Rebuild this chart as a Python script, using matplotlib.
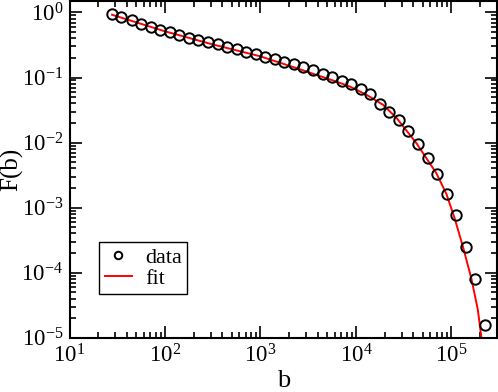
import matplotlib
matplotlib.use("Agg")
import matplotlib.pyplot as plt
from matplotlib.ticker import LogLocator, NullFormatter

plt.rcParams['font.family'] = ['Liberation Serif', 'DejaVu Serif']
plt.rcParams['mathtext.fontset'] = 'custom'
plt.rcParams['mathtext.rm'] = 'Liberation Serif'
plt.rcParams['mathtext.it'] = 'Liberation Serif:italic'
plt.rcParams['mathtext.bf'] = 'Liberation Serif:bold'

# data
b_data = [28, 35, 45, 56, 71, 89, 112, 141, 178, 224, 282, 355, 447, 562, 708,
          891, 1122, 1413, 1778, 2239, 2818, 3548, 4467, 5623, 7079, 8913,
          11220, 14125, 17783, 22387, 28184, 35481, 44668, 56234, 70795,
          89125, 112202, 141254, 177828, 223872]
F_data = [0.955, 0.838, 0.753, 0.670, 0.596, 0.542, 0.492, 0.454, 0.412, 0.380,
          0.351, 0.322, 0.297, 0.273, 0.246, 0.228, 0.208, 0.191, 0.174, 0.161,
          0.145, 0.129, 0.115, 0.101, 0.0899, 0.0783, 0.0670, 0.0550, 0.0394,
          0.0299, 0.0221, 0.0150, 0.00945, 0.00575, 0.00323, 0.00164, 0.000778,
          0.000251, 7.91e-5, 1.57e-5]

# fit curve
b_fit = [27.9, 98.4, 312, 991, 2563, 3828, 5777, 8630, 12900, 19240, 26560,
         42960, 69480, 88450, 107950, 131900, 161400, 189200, 213800]
F_fit = [0.922, 0.516, 0.324, 0.212, 0.1346, 0.110, 0.0899, 0.0727, 0.0542,
         0.0380, 0.0240, 0.00979, 0.00338, 0.00163, 0.000687, 0.000251,
         8.2e-5, 2.67e-5, 6.5e-6]

fig = plt.figure(figsize=(4.98, 3.92), dpi=100)
ax = fig.add_axes([69.5/498, 54.3/392, 427.5/498, 336.7/392])

ax.plot(b_fit, F_fit, color='red', lw=1.4, label='fit', zorder=2)
ax.plot(b_data, F_data, ls='none', marker='o', ms=7.5, mfc='none', mec='black',
        mew=1.4, label='data', zorder=3)

ax.set_xscale('log')
ax.set_yscale('log')
ax.set_xlim(10, 3e5)
ax.set_ylim(1e-5, 1.5)

ax.xaxis.set_major_locator(LogLocator(base=10, numticks=20))
ax.yaxis.set_major_locator(LogLocator(base=10, numticks=20))
ax.xaxis.set_minor_locator(LogLocator(base=10, subs=range(2, 10), numticks=20))
ax.yaxis.set_minor_locator(LogLocator(base=10, subs=range(2, 10), numticks=20))
ax.xaxis.set_minor_formatter(NullFormatter())
ax.yaxis.set_minor_formatter(NullFormatter())

ax.tick_params(which='both', direction='in', top=True, right=True,
               width=1.2, labelsize=16.5)
ax.tick_params(which='major', length=8.5)
ax.tick_params(which='minor', length=4.3)
ax.tick_params(axis='y', which='major', pad=4.5)
ax.tick_params(axis='x', which='major', pad=5)
for s in ax.spines.values():
    s.set_linewidth(1.5)

ax.set_xlabel('b', fontsize=19, labelpad=1.5)
ax.set_ylabel('F(b)', fontsize=18)
ax.yaxis.set_label_coords(-0.108, 0.5)

handles, labels = ax.get_legend_handles_labels()
leg = ax.legend(handles[::-1], labels[::-1], loc='lower left',
                bbox_to_anchor=(0.07, 0.129), fontsize=16, frameon=True,
                fancybox=False, edgecolor='black', framealpha=1,
                handlelength=1.2, handletextpad=0.6, labelspacing=0.0,
                borderpad=0.25, borderaxespad=0, markerscale=0.72)
leg.get_frame().set_linewidth(1.0)

fig.savefig('out.png', dpi=100)
